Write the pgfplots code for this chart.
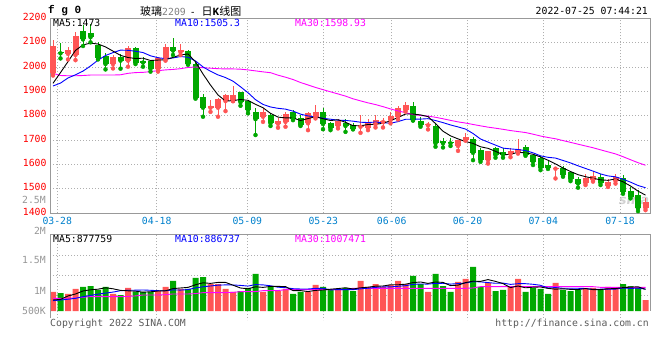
\documentclass[border=0pt]{standalone}
\usepackage{fontspec}
\setmainfont{DejaVu Sans Mono}
\newfontfamily\cjk{Noto Sans CJK SC}
\newfontfamily\lmono{Liberation Mono}
\newfontfamily\sansf{DejaVu Sans}
\usepackage{pgfplots}
\usepackage{pgfplotstable}
\pgfplotsset{compat=1.18}
\definecolor{redc}{RGB}{255,85,85}
\definecolor{greenc}{RGB}{0,168,0}
\definecolor{framegray}{RGB}{153,153,153}
\definecolor{gridgray}{RGB}{175,175,175}
\definecolor{tickblue}{RGB}{0,128,204}
\definecolor{labgray}{RGB}{150,150,150}
\definecolor{txtgray}{RGB}{90,90,90}
\definecolor{magc}{RGB}{255,0,255}
\newcommand{\mf}{\fontsize{9.8}{11}\selectfont}

% x o h l c v(thousand)
\pgfplotstableread{
x o h l c v
0 1974 2110 1965 2086 872
2 2054 2083 2031 2071 833
3 2049 2142 2028 2127 931
8 2012 2049 1994 2040 833
10 2026 2086 2001 2078 950
14 1990 2042 1981 2035 891
15 2031 2094 2026 2083 970
17 2061 2094 2049 2070 931
21 1833 1864 1816 1840 1028
22 1833 1874 1796 1868 1028
23 1860 1890 1819 1885 931
24 1860 1922 1860 1885 872
28 1796 1830 1775 1816 872
30 1767 1789 1751 1778 891
31 1775 1816 1755 1807 931
34 1769 1814 1741 1810 872
35 1796 1844 1789 1816 1009
38 1759 1785 1748 1778 931
41 1755 1803 1730 1764 1087
42 1751 1785 1741 1773 970
43 1765 1803 1752 1782 1028
44 1774 1789 1752 1780 970
45 1782 1817 1769 1799 1009
46 1796 1840 1785 1830 1087
47 1823 1858 1817 1844 1028
50 1761 1775 1744 1765 872
54 1676 1702 1656 1700 1068
55 1700 1730 1698 1711 1126
58 1618 1655 1604 1655 1048
61 1644 1666 1630 1655 970
62 1650 1704 1645 1662 1126
67 1583 1587 1543 1587 1048
71 1524 1563 1516 1546 931
72 1536 1573 1530 1554 950
74 1513 1540 1508 1529 970
75 1533 1563 1522 1550 931
79 1422 1461 1413 1447 715
}\redtab

\pgfplotstableread{
x o h l c v
1 2062 2097 2035 2056 852
4 2147 2172 2086 2113 970
5 2138 2175 2101 2122 989
6 2090 2104 2031 2038 911
7 2046 2056 1990 2012 970
9 2042 2053 1993 2026 813
11 2078 2080 2012 2018 872
12 2026 2042 2001 2018 872
13 2023 2028 1981 1993 872
16 2083 2120 2049 2067 1087
18 2067 2070 2009 2012 931
19 2012 2020 1870 1874 1146
20 1876 1888 1796 1833 1165
25 1899 1899 1841 1855 891
26 1860 1862 1810 1823 950
27 1816 1830 1721 1786 1224
29 1803 1810 1758 1769 970
32 1814 1823 1782 1786 833
33 1789 1803 1758 1762 872
36 1816 1830 1745 1766 970
37 1771 1775 1741 1748 911
39 1771 1785 1734 1758 950
40 1762 1770 1744 1747 891
48 1840 1858 1780 1782 1185
49 1780 1793 1755 1762 1028
51 1758 1771 1673 1687 1224
52 1697 1707 1670 1687 989
53 1693 1707 1676 1687 872
56 1703 1711 1618 1648 1361
57 1659 1666 1611 1618 970
59 1666 1673 1628 1639 891
60 1650 1669 1628 1641 911
63 1671 1680 1636 1641 872
64 1641 1645 1598 1611 950
65 1628 1636 1577 1587 931
66 1598 1614 1582 1587 833
68 1587 1595 1550 1557 911
69 1568 1575 1532 1539 891
70 1540 1550 1505 1522 911
73 1550 1563 1516 1525 911
76 1545 1559 1480 1488 1028
77 1491 1509 1461 1468 989
78 1475 1495 1409 1420 950
}\greentab

% moving averages of price: x m5 m10 m30
\pgfplotstableread{
x m5 m10 m30
0 1933 1922 1974
1 1977 1934 1965
2 2022 1955 1964
3 2068 1968 1964
4 2090.6 1983 1965
5 2097.8 2004 1967
6 2094.2 2028 1967
7 2082.4 2047 1967
8 2065.0 2059 1967
9 2047.6 2069.1 1968
10 2038.8 2068.3 1974
11 2034.8 2064.5 1977
12 2036.0 2059.2 1978
13 2026.6 2045.8 1981
14 2028.4 2038.0 1985
15 2029.4 2034.1 1988
16 2039.2 2037.0 1990
17 2049.6 2042.8 1993
18 2053.4 2040.0 1998
19 2021.2 2024.8 2000
20 1971.2 2000.3 1997
21 1925.8 1982.5 1995
22 1885.4 1967.5 1993
23 1860.0 1956.7 1992
24 1862.2 1941.7 1992
25 1866.6 1918.9 1991
26 1863.2 1894.5 1988
27 1846.8 1866.1 1984
28 1833.0 1846.5 1980
29 1809.8 1836.0 1976.6
30 1794.4 1830.5 1966.4
31 1791.2 1827.2 1958.1
32 1791.2 1819.0 1948.6
33 1780.4 1806.7 1936.4
34 1788.6 1799.2 1926.3
35 1796.2 1795.3 1916.1
36 1788.0 1789.6 1907.0
37 1780.4 1785.8 1898.2
38 1783.6 1782.0 1889.5
39 1773.2 1780.9 1880.6
40 1759.4 1777.8 1869.5
41 1759.0 1773.5 1861.1
42 1764.0 1772.2 1852.9
43 1764.8 1774.2 1845.9
44 1769.2 1771.2 1837.4
45 1779.6 1769.5 1827.9
46 1792.8 1775.9 1820.0
47 1807.0 1785.5 1812.5
48 1807.0 1785.9 1804.8
49 1803.4 1786.3 1801.1
50 1796.6 1788.1 1798.8
51 1768.0 1780.4 1793.7
52 1736.6 1771.8 1787.7
53 1717.6 1762.3 1781.1
54 1705.2 1754.3 1774.9
55 1694.4 1745.5 1770.1
56 1686.6 1727.3 1764.3
57 1672.8 1704.7 1758.7
58 1666.4 1692.0 1753.3
59 1654.2 1679.7 1749.0
60 1640.2 1667.3 1744.4
61 1641.6 1664.1 1739.3
62 1650.4 1661.6 1735.2
63 1647.6 1657.0 1731.2
64 1642.0 1648.1 1724.5
65 1631.2 1635.7 1716.9
66 1617.6 1629.6 1710.9
67 1602.6 1626.5 1705.6
68 1585.8 1616.7 1698.2
69 1571.4 1606.7 1690.9
70 1558.4 1594.8 1683.4
71 1550.2 1583.9 1676.1
72 1543.6 1573.1 1668.8
73 1537.2 1561.5 1660.3
74 1535.2 1553.3 1651.9
75 1540.8 1549.6 1643.6
76 1529.2 1539.7 1632.2
77 1512.0 1527.8 1619.7
78 1491.0 1514.1 1607.6
79 1474.6 1504.9 1597.1
}\matab

% moving averages of volume (thousand): x v5 v10 v30
\pgfplotstableread{
x v5 v10 v30
0 715 702 748
1 728 715 748
2 794 730 750
3 833 748 755
4 891.6 780 770
5 915 805 781
6 926.8 830 781
7 954.2 850 781
8 934.6 870 781
9 903.2 897.4 781
10 895.4 905.2 785
11 887.6 907.2 795
12 868 911.1 813
13 875.8 905.2 813
14 891.4 897.3 813
15 895.4 895.4 820
16 938.4 913 833
17 950.2 909.1 833
18 962 918.9 833
19 1013 952.2 840
20 1052 973.7 859
21 1040.2 989.3 859
22 1059.6 1004.9 859
23 1059.6 1010.8 859
24 1004.8 1008.9 865
25 950 1001 878
26 934.4 987.3 878
27 973.6 1016.6 880
28 961.8 1010.7 898
29 981.4 993.1 898
30 981.4 965.7 900
31 977.6 956 917
32 899.4 936.5 917
33 899.4 930.6 917
34 879.8 930.6 917
35 903.4 942.4 917
36 911.2 944.4 917
37 926.8 913.1 917
38 938.6 919 917
39 954.2 917 920
40 930.6 917 944
41 954 932.6 944
42 965.8 946.3 944
43 985.2 961.9 944
44 989.2 971.7 944
45 1012.8 971.7 944
46 1012.8 983.4 944
47 1024.4 995.1 944
48 1055.8 1020.5 944
49 1067.4 1028.3 944
50 1040 1026.4 944
51 1067.4 1040.1 944
52 1059.6 1042 944
53 997 1026.4 944
54 1005 1036.2 944
55 1055.8 1047.9 944
56 1083.2 1075.3 950
57 1079.4 1069.5 976
58 1114.6 1055.8 976
59 1079.2 1042.1 976
60 1036.2 1046 976
61 958 1020.6 976
62 989.2 1034.3 976
63 954 1034.3 976
64 965.8 1022.5 976
65 969.8 1003 976
66 942.4 950.2 976
67 926.8 958 976
68 934.6 944.3 976
69 922.8 944.3 976
70 918.8 944.3 976
71 938.4 940.4 976
72 918.8 922.8 976
73 918.8 926.7 963
74 934.6 928.7 963
75 938.6 928.7 963
76 958 948.2 963
77 965.8 942.3 963
78 973.6 946.2 963
79 922.6 928.6 963
}\vmatab

\begin{document}
\begin{tikzpicture}[font=\mf]
\path[use as bounding box] (0,0) rectangle (660pt,360pt);

% watermark
\node[text=gray!35, font=\sansf\bfseries\itshape\fontsize{13}{13}\selectfont] at (634pt,160pt) {sina};

\begin{axis}[
  at={(50pt,146.7pt)}, anchor=south west,
  scale only axis, width=600pt, height=195.1pt,
  xmin=-0.4, xmax=79.6, ymin=1400, ymax=2200,
  xtick={0.573,13.83,25.91,36.04,45.16,55.27,65.37,75.6},
  xticklabels={03-28,04-18,05-09,05-23,06-06,06-20,07-04,07-18},
  ytick={1400,1500,1600,1700,1800,1900,2000,2100,2200},
  yticklabels={1400,1500,1600,1700,1800,1900,2000,2100,2200},
  major tick length=0pt,
  xticklabel style={text=tickblue, font=\mf},
  yticklabel style={text=red, font=\mf, yshift=1.5pt},
  grid=major,
  major grid style={gridgray, line width=0.9pt, dash pattern=on 1pt off 2pt},
  axis line style={framegray, line width=1pt},
  clip=true,
]
% wicks
\addplot[redc, only marks, mark=none, error bars/.cd, y dir=plus, y explicit, error mark=none,
  error bar style={redc, line width=1pt}]
  table[x=x, y=l, y error expr=\thisrow{h}-\thisrow{l}] {\redtab};
\addplot[greenc, only marks, mark=none, error bars/.cd, y dir=plus, y explicit, error mark=none,
  error bar style={greenc, line width=1pt}]
  table[x=x, y=l, y error expr=\thisrow{h}-\thisrow{l}] {\greentab};
% bodies
\addplot[redc, only marks, mark=none, error bars/.cd, y dir=plus, y explicit, error mark=none,
  error bar style={redc, line width=6pt}]
  table[x=x, y=o, y error expr=\thisrow{c}-\thisrow{o}] {\redtab};
\addplot[greenc, only marks, mark=none, error bars/.cd, y dir=plus, y explicit, error mark=none,
  error bar style={greenc, line width=6pt}]
  table[x=x, y=c, y error expr=\thisrow{o}-\thisrow{c}] {\greentab};
% MAs
\addplot[magc, line width=0.9pt, mark=none] table[x=x, y=m30] {\matab};
\addplot[blue, line width=0.9pt, mark=none] table[x=x, y=m10] {\matab};
\addplot[black, line width=0.9pt, mark=none] table[x=x, y=m5] {\matab};
\end{axis}

% volume panel
\begin{axis}[
  at={(50pt,49pt)}, anchor=south west,
  scale only axis, width=600pt, height=76.7pt,
  xmin=-0.4, xmax=79.6, ymin=500, ymax=2000,
  xtick={0.573,13.83,25.91,36.04,45.16,55.27,65.37,75.6},
  xticklabels={},
  ytick={799.4,1190.8,1582.2},
  yticklabels={},
  major tick length=0pt,
  grid=major,
  major grid style={gridgray, line width=0.9pt, dash pattern=on 1pt off 2pt},
  axis line style={draw=none},
  clip mode=individual,
]
\addplot[ybar, bar width=6pt, bar shift=0pt, fill=redc, draw=none] table[x=x, y=v] {\redtab};
\addplot[ybar, bar width=6pt, bar shift=0pt, fill=greenc, draw=none] table[x=x, y=v] {\greentab};
\addplot[magc, line width=0.9pt, mark=none] table[x=x, y=v30] {\vmatab};
\addplot[blue, line width=0.9pt, mark=none] table[x=x, y=v10] {\vmatab};
\addplot[black, line width=0.9pt, mark=none] table[x=x, y=v5] {\vmatab};
\pgfplotsinvokeforeach{0.573,13.83,25.91,36.04,45.16,55.27,65.37,75.6}{
  \draw[gridgray, line width=0.9pt, dash pattern=on 1pt off 2pt] (axis cs:#1,500) -- ++(0pt,-9pt);
}
\draw[framegray, line width=1pt] (rel axis cs:0,0) ++(0pt,-7pt) -- (rel axis cs:0,1) -- (rel axis cs:1,1) -- (rel axis cs:1,0);
\end{axis}

% header texts
\node[anchor=west, inner sep=0pt, font=\lmono\bfseries\fontsize{11}{11}\selectfont] at (48pt,349pt) {f g 0};
\node[anchor=west, inner sep=0pt] at (140pt,349pt) {{\cjk\fontsize{11}{11}\selectfont 玻璃}{\color{gray}2209}\hspace{4pt}-\hspace{6pt}{\cjk\fontsize{11}{11}\selectfont 日}{\lmono\bfseries\fontsize{11}{11}\selectfont K}{\cjk\fontsize{11}{11}\selectfont 线图}};
\node[anchor=east, inner sep=0pt] at (648pt,349pt) {2022-07-25 07:44:21};

% price legend
\node[anchor=west, inner sep=0pt, text=black] at (53pt,337pt) {MA5:1473};
\node[anchor=west, inner sep=0pt, text=blue] at (175pt,337pt) {MA10:1505.3};
\node[anchor=west, inner sep=0pt, text=magc] at (295pt,337pt) {MA30:1598.93};

% volume legend
\node[anchor=west, inner sep=0pt, text=black] at (53pt,121.5pt) {MA5:877759};
\node[anchor=west, inner sep=0pt, text=blue] at (175pt,121.5pt) {MA10:886737};
\node[anchor=west, inner sep=0pt, text=magc] at (295pt,121.5pt) {MA30:1007471};

% volume labels
\node[anchor=east, inner sep=0pt, text=labgray] at (46pt,160pt) {2.5M};
\node[anchor=east, inner sep=0pt, text=labgray] at (46pt,129.3pt) {2M};
\node[anchor=east, inner sep=0pt, text=labgray] at (46pt,100pt) {1.5M};
\node[anchor=east, inner sep=0pt, text=labgray] at (46pt,69.3pt) {1M};
\node[anchor=east, inner sep=0pt, text=labgray] at (46pt,49pt) {500K};

% footer
\node[anchor=west, inner sep=0pt, text=txtgray] at (50pt,36pt) {Copyright 2022 SINA.COM};
\node[anchor=east, inner sep=0pt, text=txtgray] at (649pt,36pt) {http://finance.sina.com.cn};
\end{tikzpicture}
\end{document}
